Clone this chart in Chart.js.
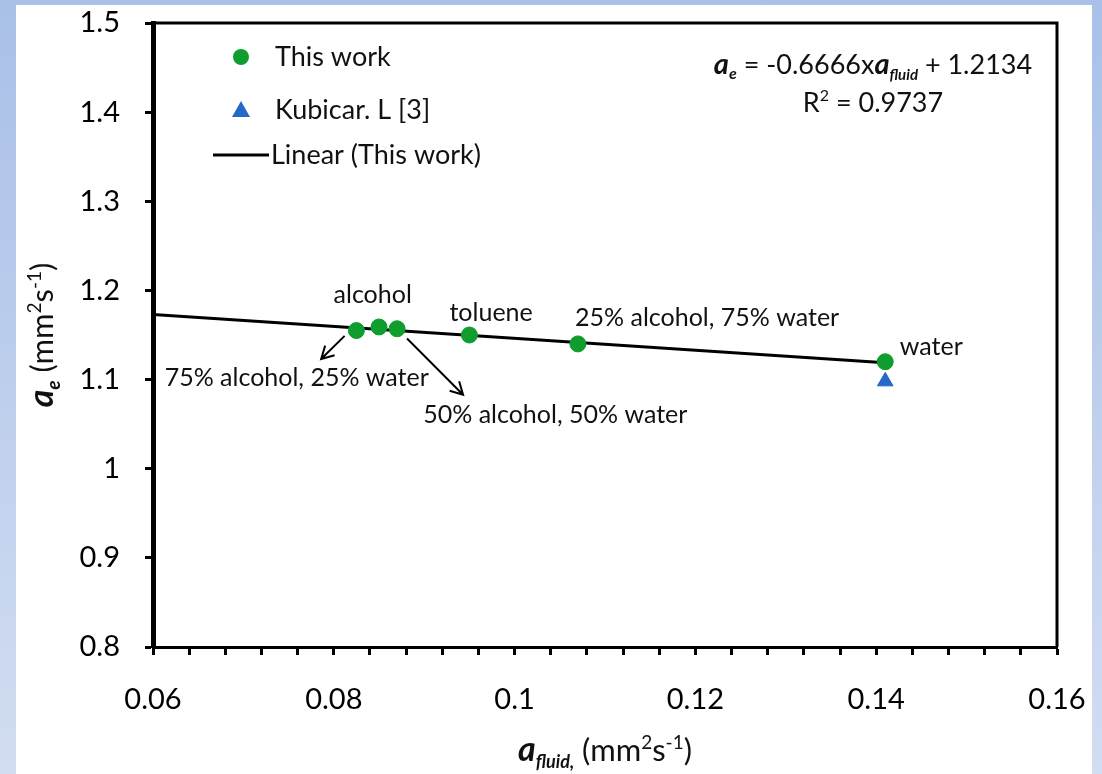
<!DOCTYPE html>
<html>
<head>
<meta charset="utf-8">
<script src="https://cdn.jsdelivr.net/npm/chart.js@4/dist/chart.umd.min.js"></script>
<style>
  body {
    margin: 0;
    width: 1102px;
    height: 774px;
    overflow: hidden;
    background: linear-gradient(#a9c0e8, #d2ddf1);
  }
  #panel {
    position: absolute;
    left: 16px;
    top: 5px;
    width: 1076px;
    height: 769px;
    background: #fff;
  }
</style>
</head>
<body>
<div id="panel"><canvas id="grafico"></canvas></div>
<script>
// dados
const thisWorkX = [0.0825, 0.085, 0.087, 0.095, 0.107, 0.141];
const thisWorkY = [1.155, 1.159, 1.157, 1.150, 1.140, 1.120];
const kubicarX = [0.141];
const kubicarY = [1.098];
const linearX = [0.06, 0.141];
const linearY = [1.173, 1.119];

const seriesNames = ['This work', 'Kubicar. L [3]', 'Linear (This work)'];
const xTickLabels = ['0.06', '0.08', '0.1', '0.12', '0.14', '0.16'];
const yTickLabels = ['0.8', '0.9', '1', '1.1', '1.2', '1.3', '1.4', '1.5'];

// textos das amostras (ancorados em coordenadas de dados)
const sampleNames = ['alcohol', 'toluene', '25% alcohol, 75% water', 'water', '75% alcohol, 25% water', '50% alcohol, 50% water'];
const sampleNameX = [0.0843, 0.0974, 0.1213, 0.1461, 0.0759, 0.1045];
const sampleNameY = [1.195, 1.175, 1.169, 1.137, 1.102, 1.060];
// setas
const arrowFromX = [0.0812, 0.0881];
const arrowFromY = [1.149, 1.146];
const arrowToX = [0.0786, 0.0943];
const arrowToY = [1.123, 1.083];

const equationText = '-0.6666x';
const equationEnd = ' + 1.2134';
const r2Text = ' = 0.9737';

const FONT = 'Lato, "Open Sans", sans-serif';
const verde = '#0f9e2e';
const azul = '#2468c9';

function pontos(xs, ys) {
    return xs.map(function (x, i) { return { x: x, y: ys[i] }; });
}

// desenha texto com partes (sub/sobrescrito)
function textoRico(ctx, partes, x, y, align) {
    let total = 0;
    partes.forEach(function (p) {
        ctx.font = p.font;
        p.w = ctx.measureText(p.t).width;
        total += p.w;
    });
    let cx = align === 'center' ? x - total / 2 : (align === 'right' ? x - total : x);
    partes.forEach(function (p) {
        ctx.font = p.font;
        ctx.fillText(p.t, cx, y + (p.dy || 0));
        cx += p.w;
    });
}

const extras = {
    id: 'extras',
    afterDraw: function (chart) {
        const ctx = chart.ctx;
        const a = chart.chartArea;
        const xs = chart.scales.x;
        const ys = chart.scales.y;
        ctx.save();

        // moldura de cima e da direita
        ctx.strokeStyle = '#000';
        ctx.lineWidth = 3;
        ctx.beginPath();
        ctx.moveTo(a.left, a.top);
        ctx.lineTo(a.right, a.top);
        ctx.lineTo(a.right, a.bottom);
        ctx.stroke();

        // legenda
        ctx.textBaseline = 'middle';
        ctx.textAlign = 'left';
        ctx.font = '27px ' + FONT;
        const lx = a.left + 88;
        const tx = a.left + 122;
        const ly = [a.top + 34, a.top + 87, a.top + 132];
        ctx.fillStyle = verde;
        ctx.beginPath();
        ctx.arc(lx, ly[0], 8, 0, Math.PI * 2);
        ctx.fill();
        ctx.fillStyle = azul;
        ctx.beginPath();
        ctx.moveTo(lx, ly[1] - 9);
        ctx.lineTo(lx + 9, ly[1] + 7);
        ctx.lineTo(lx - 9, ly[1] + 7);
        ctx.closePath();
        ctx.fill();
        ctx.strokeStyle = '#000';
        ctx.lineWidth = 3;
        ctx.beginPath();
        ctx.moveTo(a.left + 60, ly[2]);
        ctx.lineTo(a.left + 116, ly[2]);
        ctx.stroke();
        ctx.fillStyle = '#111';
        ctx.fillText(seriesNames[0], tx, ly[0]);
        ctx.fillText(seriesNames[1], tx, ly[1]);
        ctx.fillText(seriesNames[2], a.left + 118, ly[2]);

        // equacao da reta
        ctx.textBaseline = 'alphabetic';
        const ex = a.right - 184;
        textoRico(ctx, [
            { t: 'a', font: 'italic bold 29px ' + FONT },
            { t: 'e', font: 'italic bold 16px ' + FONT, dy: 5 },
            { t: ' = ' + equationText, font: '27px ' + FONT },
            { t: 'a', font: 'italic bold 29px ' + FONT },
            { t: 'fluid', font: 'italic bold 15px ' + FONT, dy: 6 },
            { t: equationEnd, font: '27px ' + FONT }
        ], ex, a.top + 51, 'center');
        textoRico(ctx, [
            { t: 'R', font: '27px ' + FONT },
            { t: '2', font: '16px ' + FONT, dy: -11 },
            { t: r2Text, font: '27px ' + FONT }
        ], ex, a.top + 89, 'center');

        // nomes das amostras
        ctx.font = '25px ' + FONT;
        ctx.textAlign = 'center';
        ctx.textBaseline = 'middle';
        sampleNames.forEach(function (n, i) {
            ctx.fillText(n, xs.getPixelForValue(sampleNameX[i]), ys.getPixelForValue(sampleNameY[i]));
        });

        // setas
        ctx.strokeStyle = '#000';
        ctx.lineWidth = 2;
        arrowFromX.forEach(function (v, i) {
            const x1 = xs.getPixelForValue(v), y1 = ys.getPixelForValue(arrowFromY[i]);
            const x2 = xs.getPixelForValue(arrowToX[i]), y2 = ys.getPixelForValue(arrowToY[i]);
            const ang = Math.atan2(y2 - y1, x2 - x1);
            ctx.beginPath();
            ctx.moveTo(x1, y1);
            ctx.lineTo(x2, y2);
            ctx.moveTo(x2 - 14 * Math.cos(ang - 0.5), y2 - 14 * Math.sin(ang - 0.5));
            ctx.lineTo(x2, y2);
            ctx.lineTo(x2 - 14 * Math.cos(ang + 0.5), y2 - 14 * Math.sin(ang + 0.5));
            ctx.stroke();
        });

        // titulos dos eixos
        ctx.fillStyle = '#111';
        ctx.textAlign = 'left';
        ctx.textBaseline = 'alphabetic';
        textoRico(ctx, [
            { t: 'a', font: 'italic bold 34px ' + FONT },
            { t: 'fluid,', font: 'italic bold 18px ' + FONT, dy: 7 },
            { t: ' (mm', font: '31px ' + FONT },
            { t: '2', font: '19px ' + FONT, dy: -12 },
            { t: 's', font: '31px ' + FONT },
            { t: '-1', font: '19px ' + FONT, dy: -12 },
            { t: ')', font: '31px ' + FONT }
        ], (a.left + a.right) / 2, a.bottom + 114, 'center');

        ctx.translate(a.left - 100, (a.top + a.bottom) / 2);
        ctx.rotate(-Math.PI / 2);
        textoRico(ctx, [
            { t: 'a', font: 'italic bold 34px ' + FONT },
            { t: 'e', font: 'italic bold 19px ' + FONT, dy: 7 },
            { t: ' (mm', font: '31px ' + FONT },
            { t: '2', font: '19px ' + FONT, dy: -12 },
            { t: 's', font: '31px ' + FONT },
            { t: '-1', font: '19px ' + FONT, dy: -12 },
            { t: ')', font: '31px ' + FONT }
        ], 0, 0, 'center');

        ctx.restore();
    }
};

const grafico = document.getElementById('grafico');

new Chart(grafico, {
    type: 'scatter',
    data: {
        datasets: [{
            label: seriesNames[2],
            data: pontos(linearX, linearY),
            showLine: true,
            borderColor: '#000',
            borderWidth: 3,
            pointRadius: 0,
            order: 3
        },
        {
            label: seriesNames[0],
            data: pontos(thisWorkX, thisWorkY),
            backgroundColor: verde,
            borderColor: verde,
            pointRadius: 8,
            pointHoverRadius: 8,
            order: 2
        },
        {
            label: seriesNames[1],
            data: pontos(kubicarX, kubicarY),
            pointStyle: 'triangle',
            backgroundColor: azul,
            borderColor: azul,
            pointRadius: 9,
            pointHoverRadius: 9,
            order: 1
        }]
    },
    options: {
        responsive: true,
        maintainAspectRatio: false,
        animation: false,
        layout: {
            padding: { top: 18, right: 35, left: 0, bottom: 0 }
        },
        plugins: {
            legend: { display: false },
            tooltip: { enabled: false }
        },
        scales: {
            x: {
                type: 'linear',
                min: 0.06,
                max: 0.16,
                afterFit: function (s) {
                    s.height = 127;
                    s.paddingLeft = 0;
                    s.paddingRight = 0;
                },
                border: { display: true, color: '#000', width: 3 },
                grid: {
                    drawOnChartArea: false,
                    drawTicks: true,
                    tickLength: 8,
                    tickWidth: 3,
                    tickColor: '#000'
                },
                ticks: {
                    stepSize: 0.004,
                    autoSkip: false,
                    maxRotation: 0,
                    padding: 27,
                    color: '#000',
                    font: { family: FONT, size: 29 },
                    callback: function (v, i) {
                        return i % 5 === 0 ? xTickLabels[i / 5] : '';
                    }
                }
            },
            y: {
                type: 'linear',
                min: 0.8,
                max: 1.5,
                afterFit: function (s) {
                    s.width = 137;
                    s.paddingTop = 0;
                    s.paddingBottom = 0;
                },
                border: { display: true, color: '#000', width: 5 },
                grid: {
                    drawOnChartArea: false,
                    drawTicks: true,
                    tickLength: 8,
                    tickWidth: 3,
                    tickColor: '#000'
                },
                ticks: {
                    stepSize: 0.1,
                    padding: 25,
                    color: '#000',
                    font: { family: FONT, size: 29 },
                    callback: function (v, i) {
                        return yTickLabels[i];
                    }
                }
            }
        }
    },
    plugins: [extras]
});
</script>
</body>
</html>
